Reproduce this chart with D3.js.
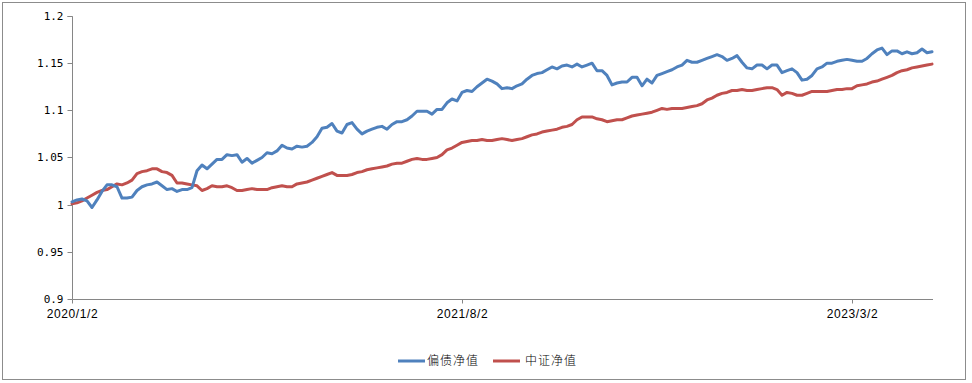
<!DOCTYPE html>
<html><head><meta charset="utf-8">
<script src="https://cdn.jsdelivr.net/npm/d3@7/dist/d3.min.js"></script>
<style>
html,body{margin:0;padding:0;background:#fff;}
svg{display:block;}
</style></head>
<body>
<svg id="chart" width="972" height="383"></svg>
<script>
const seriesNames = ["偏债净值", "中证净值"];
const seriesColors = ["#4F81BD", "#C0504D"];
const xTickLabels = ["2020/1/2", "2021/8/2", "2023/3/2"];
const xTickIndex = [0, 78, 156];
const yTicks = [0.9, 0.95, 1, 1.05, 1.1, 1.15, 1.2];
const yTickLabels = ["0.9", "0.95", "1", "1.05", "1.1", "1.15", "1.2"];

const blueValues = [
1.003,1.005,1.006,1.004,0.997,1.005,1.014,1.021,1.021,1.019,
1.007,1.007,1.008,1.015,1.019,1.021,1.022,1.024,1.020,1.016,
1.017,1.014,1.016,1.016,1.018,1.036,1.042,1.038,1.043,1.048,
1.048,1.053,1.052,1.053,1.045,1.049,1.044,1.047,1.050,1.055,
1.054,1.057,1.063,1.060,1.059,1.062,1.061,1.062,1.066,1.072,
1.081,1.082,1.086,1.078,1.076,1.085,1.087,1.080,1.075,1.078,
1.080,1.082,1.083,1.080,1.085,1.088,1.088,1.090,1.094,1.099,
1.099,1.099,1.096,1.101,1.101,1.108,1.112,1.110,1.119,1.121,
1.120,1.125,1.129,1.133,1.131,1.128,1.123,1.124,1.123,1.126,
1.128,1.133,1.137,1.139,1.140,1.143,1.146,1.144,1.147,1.148,
1.146,1.149,1.146,1.148,1.150,1.142,1.142,1.137,1.127,1.129,
1.130,1.130,1.135,1.135,1.126,1.133,1.129,1.137,1.139,1.141,
1.143,1.146,1.148,1.153,1.151,1.151,1.153,1.155,1.157,1.159,
1.157,1.153,1.155,1.158,1.151,1.145,1.144,1.148,1.148,1.144,
1.148,1.148,1.140,1.142,1.144,1.140,1.132,1.133,1.137,1.144,
1.146,1.150,1.150,1.152,1.153,1.154,1.153,1.152,1.152,1.155,
1.160,1.164,1.166,1.159,1.163,1.163,1.160,1.162,1.160,1.161,
1.165,1.161,1.162];

const redValues = [
1.001,1.002,1.004,1.007,1.010,1.013,1.015,1.016,1.019,1.022,
1.021,1.023,1.026,1.033,1.035,1.036,1.038,1.038,1.035,1.034,
1.031,1.023,1.023,1.022,1.021,1.020,1.015,1.017,1.020,1.019,
1.019,1.020,1.018,1.015,1.015,1.016,1.017,1.016,1.016,1.016,
1.018,1.019,1.020,1.019,1.019,1.022,1.023,1.024,1.026,1.028,
1.030,1.032,1.034,1.031,1.031,1.031,1.032,1.034,1.035,1.037,
1.038,1.039,1.040,1.041,1.043,1.044,1.044,1.046,1.048,1.049,
1.048,1.048,1.049,1.050,1.053,1.058,1.060,1.063,1.066,1.067,
1.068,1.068,1.069,1.068,1.068,1.069,1.070,1.069,1.068,1.069,
1.070,1.072,1.074,1.075,1.077,1.078,1.079,1.080,1.082,1.083,
1.085,1.090,1.093,1.093,1.093,1.091,1.090,1.088,1.089,1.090,
1.090,1.092,1.094,1.095,1.096,1.097,1.098,1.100,1.102,1.101,
1.102,1.102,1.102,1.103,1.104,1.105,1.107,1.111,1.113,1.116,
1.118,1.119,1.121,1.121,1.122,1.121,1.121,1.122,1.123,1.124,
1.124,1.122,1.116,1.119,1.118,1.116,1.116,1.118,1.120,1.120,
1.120,1.120,1.121,1.122,1.122,1.123,1.123,1.126,1.127,1.128,
1.130,1.131,1.133,1.135,1.137,1.140,1.142,1.143,1.145,1.146,
1.147,1.148,1.149];

const svg = d3.select("#chart");
const W = 972, H = 383;
const plot = {left: 72, right: 932, top: 16, bottom: 299};

// outer chart frame
svg.append("rect").attr("x", 2.5).attr("y", 2.5).attr("width", 963).attr("height", 377)
  .attr("fill", "#fff").attr("stroke", "#8c8c8c").attr("stroke-width", 1);

const n = blueValues.length;
const x = d3.scaleLinear().domain([0, n - 1]).range([plot.left, plot.right]);
const y = d3.scaleLinear().domain([0.9, 1.2]).range([plot.bottom, plot.top]);

// y axis
const yAxis = d3.axisLeft(y).tickValues(yTicks).tickSize(5).tickPadding(4)
  .tickFormat((d, i) => yTickLabels[i]);
const gy = svg.append("g").attr("transform", `translate(${plot.left + 0.5},0)`).call(yAxis);
gy.select(".domain").attr("stroke", "#868686").attr("d", `M-5,${plot.top + 0.5}H0V${plot.bottom + 0.5}`);
gy.selectAll(".tick line").attr("stroke", "#868686");
gy.selectAll(".tick").attr("transform", d => `translate(0,${Math.round(y(d)) + 0.5})`);
gy.selectAll("text").attr("font-family", "'DejaVu Sans Mono', 'Liberation Mono', monospace")
  .attr("font-size", 11).attr("fill", "#000").attr("x", -9).attr("dy", "0.34em");

// x axis
const xAxis = d3.axisBottom(x).tickValues(xTickIndex).tickSize(4).tickPadding(6)
  .tickFormat((d, i) => xTickLabels[i]);
const gx = svg.append("g").attr("transform", `translate(0,${plot.bottom + 0.5})`).call(xAxis);
gx.select(".domain").attr("stroke", "#868686").attr("d", `M${plot.left + 0.5},0H${plot.right + 1}`);
gx.selectAll(".tick line").attr("stroke", "#868686");
gx.selectAll(".tick").attr("transform", d => `translate(${Math.round(x(d)) + 0.5},0)`);
gx.selectAll("text").attr("font-family", "'Liberation Sans', Arial, sans-serif")
  .attr("font-size", 12).attr("letter-spacing", "0.6px").attr("fill", "#000");

// lines
const line = d3.line().x((d, i) => x(i)).y(d => y(d)).curve(d3.curveLinear);
[redValues, blueValues].forEach((vals, k) => {
  const idx = k === 0 ? 1 : 0;
  svg.append("path").datum(vals).attr("d", line)
    .attr("fill", "none").attr("stroke", seriesColors[idx]).attr("stroke-width", 3)
    .attr("stroke-linejoin", "round").attr("stroke-linecap", "round");
});

// legend
const legendItems = [{x: 398, tx: 427}, {x: 493, tx: 525}];
legendItems.forEach((p, i) => {
  svg.append("line").attr("x1", p.x).attr("x2", p.x + 27).attr("y1", 361).attr("y2", 361)
    .attr("stroke", seriesColors[i]).attr("stroke-width", 3);
  svg.append("text").attr("x", p.tx).attr("y", 361).attr("dy", "0.36em")
    .attr("font-family", "'Noto Sans CJK SC', sans-serif").attr("font-size", 12)
    .attr("font-weight", 300).attr("letter-spacing", "1px").attr("fill", "#000")
    .text(seriesNames[i]);
});
</script>
</body></html>
